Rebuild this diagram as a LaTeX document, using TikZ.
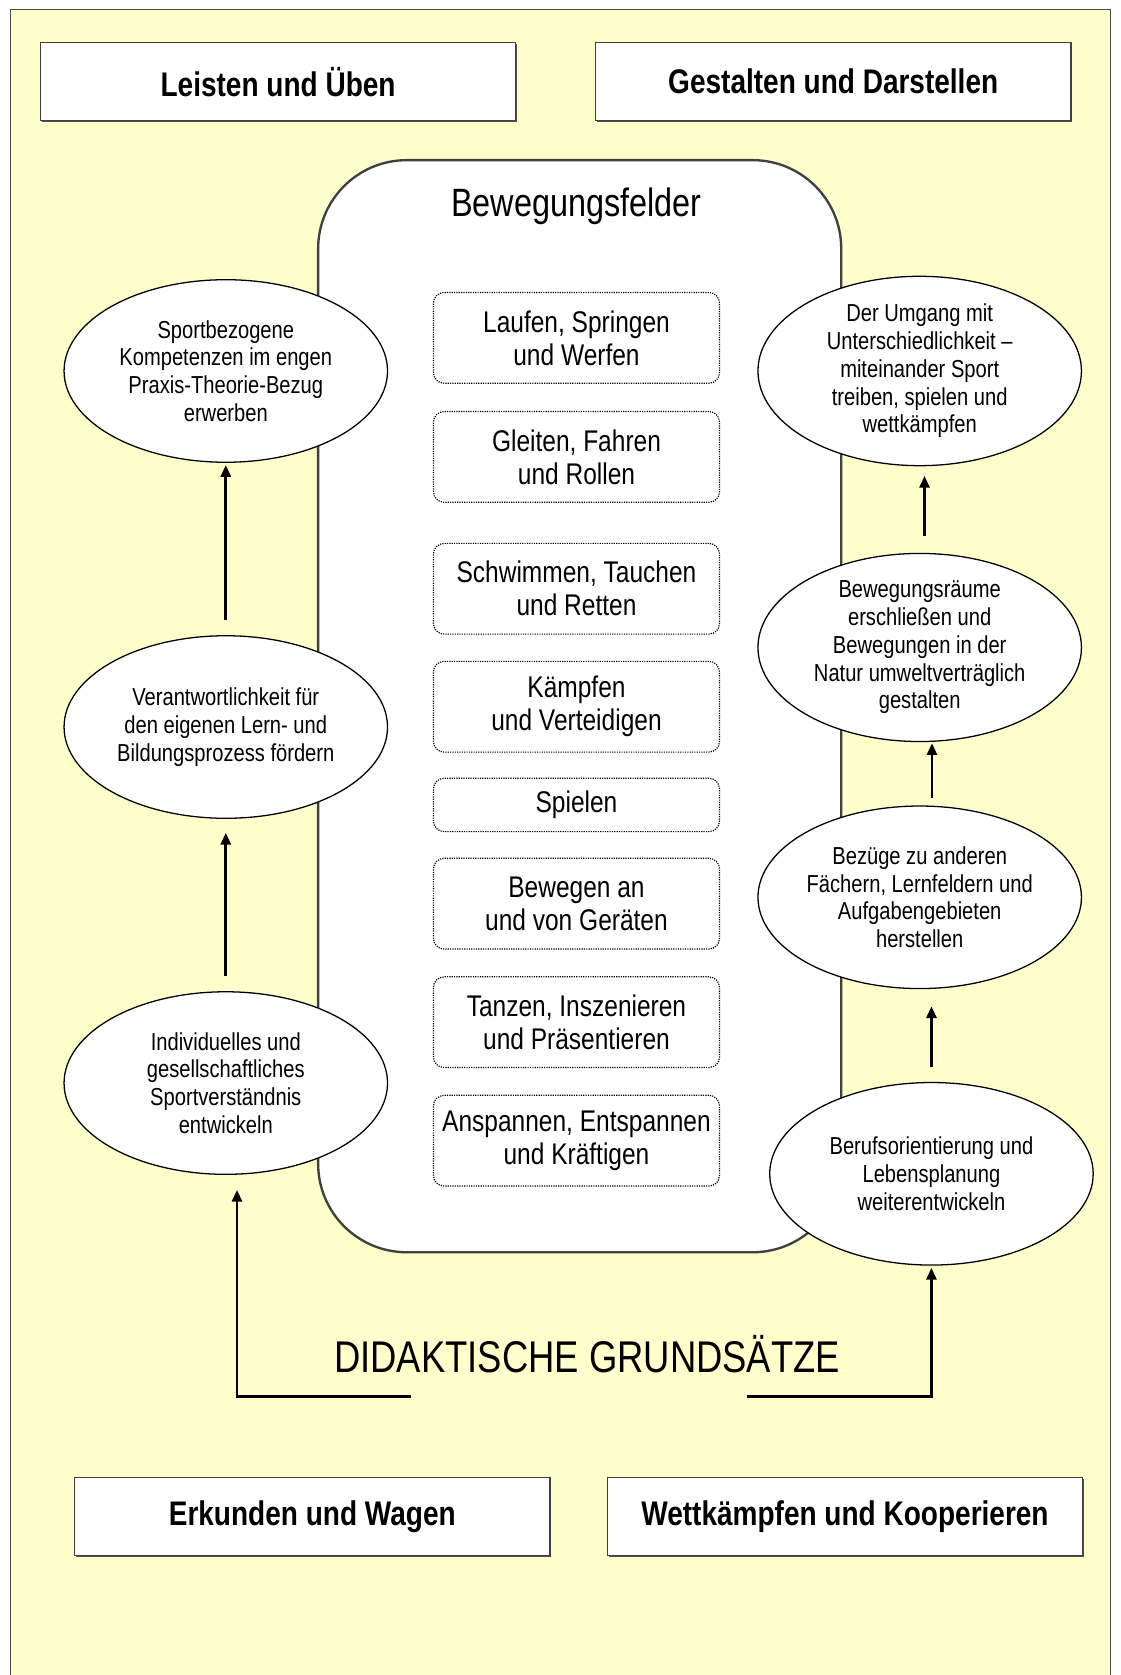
\documentclass[tikz,border=0pt]{standalone}
\usepackage{fontspec}
\setmainfont{Liberation Sans}[FakeStretch=0.82]
\usetikzlibrary{shapes.geometric,arrows.meta,shadows}
\definecolor{paper}{HTML}{FFFFCC}
\begin{document}
\begin{tikzpicture}[x=0.5pt,y=-0.5pt,
  area/.style={draw=black!75,line width=0.7pt,fill=white,
    minimum width=222.5pt,minimum height=36.5pt,
    font=\bfseries\fontsize{16}{19}\selectfont,
    drop shadow={opacity=1,fill=black!70,shadow xshift=0.7pt,shadow yshift=-0.7pt}},
  goal/.style={ellipse,draw,line width=0.6pt,fill=white,inner sep=0pt,
    minimum width=151.5pt,minimum height=85.5pt,align=center,
    font=\fontsize{11.5}{13}\selectfont},
  field/.style={draw=black,line width=0.55pt,dash pattern=on 0.55pt off 0.55pt,
    rounded corners=5pt,minimum width=134pt,minimum height=42.5pt,align=center,
    font=\fontsize{14}{15.5}\selectfont},
  arr/.style={line width=1.25pt,-{Triangle[length=5.5pt,width=4.7pt]}}]
  \useasboundingbox (0,0) rectangle (1050,1569);
  \fill[white] (0,0) rectangle (1050,1569);
  \fill[paper] (9.4,8.7) rectangle (1040.5,1569);
  \draw[black!70,line width=0.5pt] (9.4,1569) -- (9.4,8.7) -- (1040.5,8.7) -- (1040.5,1569);

  \node[area] (leisten) at (260.5,76.5) {Leisten und Üben};
  \node[area] (gestalten) at (780.5,76.5) {Gestalten und Darstellen};
  \node[area] (erkunden) at (292.5,1420.5) {Erkunden und Wagen};
  \node[area] (wettkampf) at (791.5,1420.5) {Wettkämpfen und Kooperieren};

  \node[draw=black!75,line width=1.1pt,fill=white,rounded corners=41.5pt,
    minimum width=245pt,minimum height=511.5pt] (felder) at (543,661.5) {};
  \node[font=\fontsize{18.5}{22}\selectfont] (titel) at (540,193) {Bewegungsfelder};

  \node[field] (laufen) at (540,316.5) {Laufen, Springen\\und Werfen};
  \node[field] (gleiten) at (540,428) {Gleiten, Fahren\\und Rollen};
  \node[field] (schwimmen) at (540,551.5) {Schwimmen, Tauchen\\und Retten};
  \node[field] (kaempfen) at (540,662) {Kämpfen\\und Verteidigen};
  \node[field,minimum height=25pt] (spielen) at (540,754) {Spielen};
  \node[field] (geraete) at (540,846.5) {Bewegen an\\und von Geräten};
  \node[field] (tanzen) at (540,957.5) {Tanzen, Inszenieren\\und Präsentieren};
  \node[field] (anspannen) at (540,1068.5) {Anspannen, Entspannen\\und Kräftigen};

  \node[goal] (kompetenz) at (211.5,347.5)
    {Sportbezogene\\Kompetenzen im engen\\Praxis-Theorie-Bezug\\erwerben};
  \node[goal] (verantwortung) at (211.5,681)
    {Verantwortlichkeit für\\den eigenen Lern- und\\Bildungsprozess fördern};
  \node[goal] (verstaendnis) at (211.5,1014.5)
    {Individuelles und\\gesellschaftliches\\Sportverständnis\\entwickeln};
  \node[goal] (umgang) at (861.5,347.5)
    {Der Umgang mit\\Unterschiedlichkeit –\\miteinander Sport\\treiben, spielen und\\wettkämpfen};
  \node[goal] (raeume) at (861.5,606.5)
    {Bewegungsräume\\erschließen und\\Bewegungen in der\\Natur umweltverträglich\\gestalten};
  \node[goal] (bezuege) at (861.5,840.5)
    {Bezüge zu anderen\\Fächern, Lernfeldern und\\Aufgabengebieten\\herstellen};
  \node[goal] (beruf) at (872.5,1099.5)
    {Berufsorientierung und\\Lebensplanung\\weiterentwickeln};

  \node[font=\fontsize{20.8}{24}\selectfont] (grundsaetze) at (550,1268) {DIDAKTISCHE GRUNDSÄTZE};
  \coordinate (gl) at (385,1308);
  \coordinate (gr) at (700,1308);

  \draw[arr,shorten <=7pt,shorten >=1pt] (verantwortung.north) -- (kompetenz.south);
  \draw[arr,shorten <=7pt,shorten >=6.5pt] (verstaendnis.north) -- (verantwortung.south);
  \draw[arr,shorten >=7pt] (gl) -| ([xshift=5.25pt]verstaendnis.south);
  \draw[arr,shorten <=8pt,shorten >=4.5pt] ([xshift=2.25pt]raeume.north) -- ([xshift=2.25pt]umgang.south);
  \draw[arr,shorten <=3.5pt,shorten >=0.5pt] ([xshift=5.75pt]bezuege.north) -- ([xshift=5.75pt]raeume.south);
  \draw[arr,shorten <=7pt,shorten >=8pt] (beruf.north) -- (beruf.north |- bezuege.south);
  \draw[arr,shorten >=1pt] (gr) -| (beruf.south);
\end{tikzpicture}
\end{document}
